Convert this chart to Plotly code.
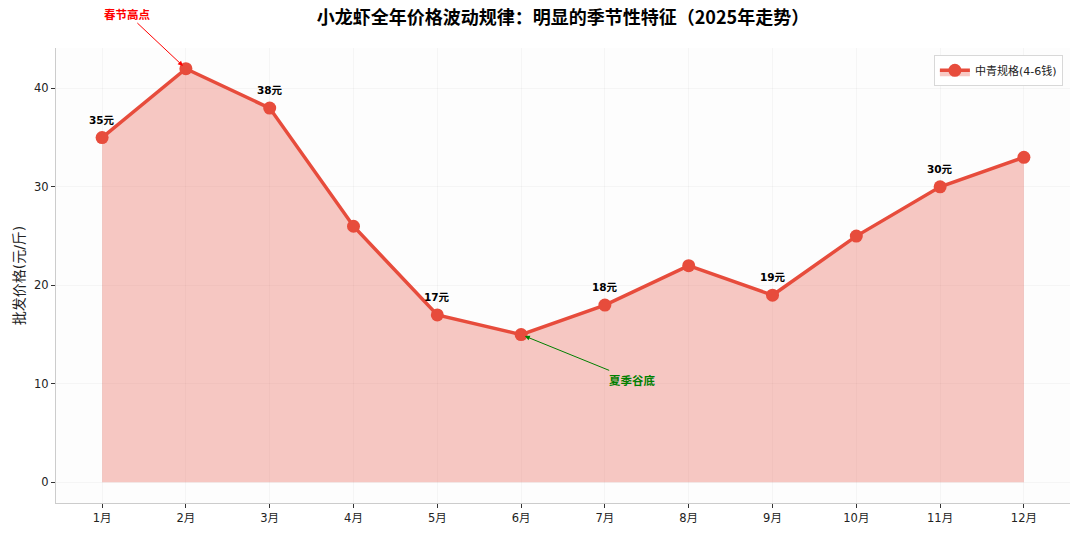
import plotly.graph_objects as go

months = ["1月", "2月", "3月", "4月", "5月", "6月", "7月", "8月", "9月", "10月", "11月", "12月"]
prices = [35, 42, 38, 26, 17, 15, 18, 22, 19, 25, 30, 33]
label_idx = [0, 2, 4, 6, 8, 10]
series_name = "中青规格(4-6钱)"
y_ticks = [0, 10, 20, 30, 40]

xs = list(range(1, 13))
red = "#E74C3C"
FONT = "DejaVu Sans, Noto Sans CJK SC, sans-serif"

fig = go.Figure()
fig.add_trace(go.Scatter(
    x=xs, y=prices, mode="lines+markers", name=series_name,
    line=dict(color=red, width=3.5),
    marker=dict(color=red, size=13),
    fill="tozeroy", fillcolor="rgba(231,76,60,0.3)",
))

annotations = []
for i in label_idx:
    annotations.append(dict(
        x=xs[i], y=prices[i], text=f"<b>{prices[i]}元</b>", showarrow=False,
        yshift=18, font=dict(size=10.5, color="black", family=FONT),
    ))
annotations.append(dict(
    x=2, y=prices[1], ax=1.3, ay=47.6, axref="x", ayref="y",
    text="<b>春节高点</b>", showarrow=True, arrowhead=2, arrowsize=1,
    arrowwidth=1, arrowcolor="red", standoff=4,
    font=dict(size=11.5, color="red", family="Noto Sans CJK SC"),
))
annotations.append(dict(
    x=6, y=prices[5], ax=7.33, ay=10.4, axref="x", ayref="y",
    text="<b>夏季谷底</b>", showarrow=True, arrowhead=2, arrowsize=1,
    arrowwidth=1, arrowcolor="green", standoff=4,
    font=dict(size=11.5, color="green", family="Noto Sans CJK SC"),
))

fig.update_layout(
    width=1080, height=534,
    margin=dict(l=56, r=10, t=48, b=31),
    paper_bgcolor="white", plot_bgcolor="#fdfdfd",
    font=dict(family=FONT, size=11.5, color="#222"),
    title=dict(text="<b>小龙虾全年价格波动规律：明显的季节性特征（2025年走势）</b>",
               xref="paper", x=0.5, xanchor="center", y=0.978, yanchor="top",
               font=dict(size=18, color="black", family="Noto Sans CJK SC")),
    showlegend=True,
    legend=dict(x=0.993, y=0.985, xanchor="right", yanchor="top",
                bgcolor="white", bordercolor="#d8d8d8", borderwidth=1,
                font=dict(size=11, family=FONT)),
    annotations=annotations,
    xaxis=dict(range=[0.45, 12.55], tickvals=xs, ticktext=months,
               showline=True, linecolor="#cccccc", linewidth=1,
               ticks="outside", ticklen=4, tickcolor="#333",
               showgrid=True, gridcolor="rgba(0,0,0,0.03)", zeroline=False,
               automargin=False),
    yaxis=dict(range=[-2.1, 44.1], tickvals=y_ticks,
               title=dict(text="批发价格(元/斤)", font=dict(size=14), standoff=6),
               showline=True, linecolor="#cccccc", linewidth=1,
               ticks="outside", ticklen=4, tickcolor="#333",
               showgrid=True, gridcolor="rgba(0,0,0,0.03)", zeroline=False,
               automargin=False),
)

fig.write_html("out.html", config={"displayModeBar": False},
               post_script="document.body.style.margin='0';")
